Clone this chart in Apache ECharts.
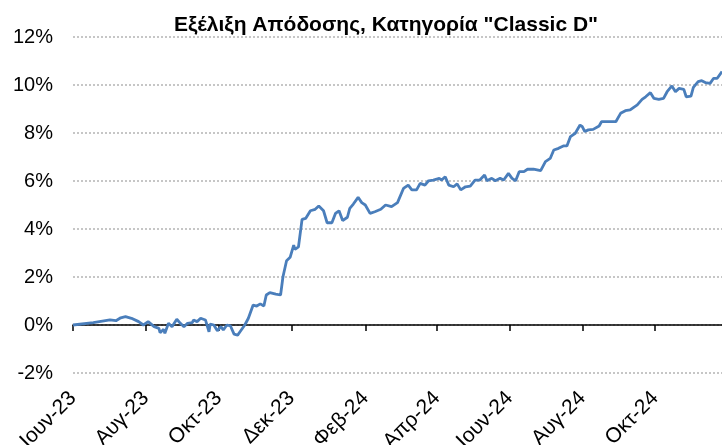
<!DOCTYPE html>
<html>
<head>
<meta charset="utf-8">
<script src="https://cdn.jsdelivr.net/npm/echarts@6/dist/echarts.min.js"></script>
<style>
  html, body { margin: 0; padding: 0; background: #fff; }
  #chart { width: 722px; height: 445px; }
</style>
</head>
<body>
<div id="chart"></div>
<script>
// series start date, days are counted from here
var startDate = '2023-06-01';
var endDay = 544;

// tick labels (every 2 months)
var tickDates = ['2023-06-01', '2023-08-01', '2023-10-01', '2023-12-01', '2024-02-01',
                 '2024-04-01', '2024-06-01', '2024-08-01', '2024-10-01'];
var tickLabels = ['Ιουν-23', 'Αυγ-23', 'Οκτ-23', 'Δεκ-23', 'Φεβ-24',
                  'Απρ-24', 'Ιουν-24', 'Αυγ-24', 'Οκτ-24'];

// day offset from startDate
var days = [0, 17, 31, 36, 40, 44, 49, 55, 59, 63,
  68, 72, 73, 76, 77, 80, 83, 87, 90, 93,
  96, 100, 101, 104, 107, 111, 114, 115, 118, 121,
  124, 126, 129, 132, 135, 138, 140, 144, 147, 151,
  154, 157, 160, 162, 165, 170, 174, 176, 179, 182,
  185, 186, 189, 192, 195, 199, 203, 206, 210, 213,
  217, 220, 223, 226, 230, 232, 235, 239, 242, 245,
  249, 253, 258, 262, 267, 272, 277, 281, 284, 288,
  291, 295, 298, 302, 307, 309, 312, 315, 319, 322,
  325, 329, 333, 337, 341, 345, 347, 351, 354, 358,
  361, 365, 368, 371, 374, 378, 381, 386, 392, 396,
  400, 403, 407, 411, 414, 417, 421, 425, 427, 429,
  432, 436, 441, 443, 448, 452, 455, 459, 463, 467,
  470, 473, 477, 480, 484, 487, 491, 495, 498, 502,
  505, 508, 512, 514, 518, 520, 524, 527, 530, 534,
  537, 540, 544];

// cumulative return (%)
var returns = [0, 0.10, 0.21, 0.18, 0.30, 0.35, 0.28, 0.14, 0, 0.14,
  -0.07, -0.14, -0.32, -0.18, -0.35, 0.07, -0.07, 0.24, 0.07, -0.07,
  0.07, 0.10, 0.21, 0.14, 0.28, 0.21, -0.28, 0.04, 0, -0.24,
  -0.07, -0.21, 0, -0.04, -0.38, -0.42, -0.28, 0, 0.28, 0.83,
  0.79, 0.88, 0.79, 1.25, 1.35, 1.29, 1.25, 2.01, 2.68, 2.82,
  3.33, 3.15, 3.26, 4.40, 4.44, 4.76, 4.82, 4.96, 4.76, 4.26,
  4.26, 4.65, 4.76, 4.35, 4.49, 4.86, 5.04, 5.32, 5.10, 5.00,
  4.65, 4.72, 4.82, 5.00, 4.93, 5.10, 5.69, 5.83, 5.63, 5.63,
  5.90, 5.83, 6.01, 6.04, 6.11, 6.04, 6.18, 5.83, 5.76, 5.88,
  5.63, 5.76, 5.79, 6.04, 6.04, 6.25, 6.01, 6.11, 6.01, 6.11,
  6.04, 6.32, 6.11, 6.01, 6.39, 6.39, 6.49, 6.49, 6.43, 6.81,
  6.94, 7.29, 7.36, 7.46, 7.46, 7.85, 7.99, 8.33, 8.26, 8.06,
  8.13, 8.15, 8.29, 8.47, 8.47, 8.47, 8.47, 8.82, 8.93, 8.96,
  9.07, 9.17, 9.40, 9.51, 9.68, 9.44, 9.40, 9.44, 9.72, 9.96,
  9.72, 9.86, 9.82, 9.51, 9.54, 9.90, 10.14, 10.18, 10.10, 10.07,
  10.28, 10.28, 10.56];

var t0 = Date.parse(startDate);
var tickDays = tickDates.map(function (d) { return Math.round((Date.parse(d) - t0) / 864e5); });
var labelOf = {};
tickDays.forEach(function (d, i) { labelOf[d] = tickLabels[i]; });

var lineData = days.map(function (d, i) { return [d, returns[i]]; });

var font = 'Liberation Sans, Arial, sans-serif';
var chart = echarts.init(document.getElementById('chart'));
var option = {
  animation: false,
  title: {
    text: 'Εξέλιξη Απόδοσης, Κατηγορία "Classic D"',
    left: 381,
    top: 10,
    textAlign: 'center',
    textStyle: { fontFamily: font, fontSize: 21, fontWeight: 'bold', color: '#000' }
  },
  grid: { left: 73, right: 0, top: 37, bottom: 72, outerBoundsMode: 'none', containLabel: false },
  xAxis: [{
    type: 'value',
    min: 0,
    max: endDay,
    axisLine: { onZero: true, lineStyle: { color: '#000', width: 1.5 } },
    axisTick: { show: true, customValues: tickDays, length: 6, lineStyle: { color: '#000', width: 1.5 } },
    axisLabel: { show: false },
    splitLine: { show: false }
  }, {
    type: 'value',
    min: 0,
    max: endDay,
    position: 'bottom',
    axisLine: { show: false, onZero: false },
    axisTick: { show: false },
    splitLine: { show: false },
    axisLabel: {
      customValues: tickDays,
      rotate: 45,
      margin: 22,
      fontFamily: font,
      fontSize: 21,
      color: '#000',
      formatter: function (v) { return labelOf[v] || ''; }
    }
  }],
  yAxis: {
    type: 'value',
    min: -2,
    max: 12,
    interval: 2,
    axisLine: { show: false },
    axisTick: { show: false },
    axisLabel: {
      margin: 20,
      fontFamily: font,
      fontSize: 20,
      color: '#000',
      formatter: function (v) { return v + '%'; }
    },
    splitLine: { lineStyle: { color: '#b4b4b4', type: [2, 2], width: 1.5 } }
  },
  series: [{
    type: 'line',
    xAxisIndex: 0,
    data: lineData,
    symbol: 'none',
    lineStyle: { color: '#4a7ebb', width: 2.8 }
  }]
};
chart.setOption(option);
</script>
</body>
</html>
